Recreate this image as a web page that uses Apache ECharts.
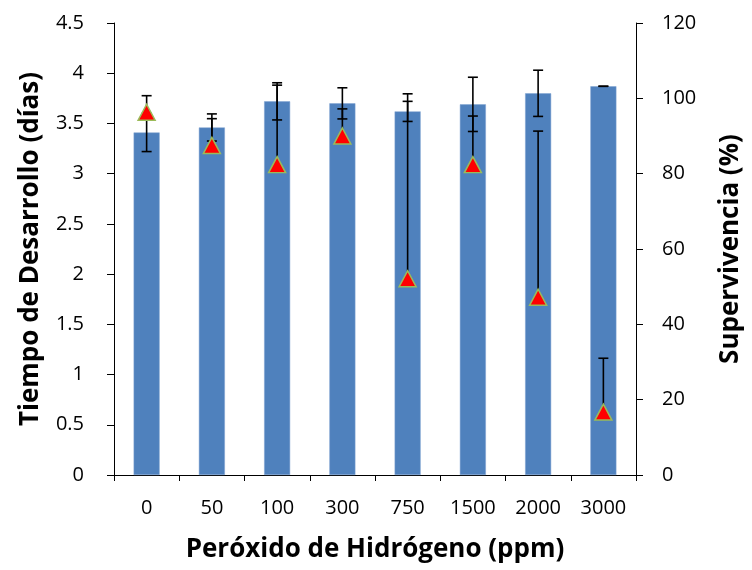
<!DOCTYPE html>
<html>
<head>
<meta charset="utf-8">
<script src="https://cdn.jsdelivr.net/npm/echarts@6/dist/echarts.min.js"></script>
<style>
html,body{margin:0;padding:0;background:#fff;}
#chart{width:752px;height:570px;}
</style>
</head>
<body>
<div id="chart"></div>
<script>
// Categories (H2O2 concentration, ppm)
const categories = ['0', '50', '100', '300', '750', '1500', '2000', '3000'];
// Development time (days) - bars, left axis
const tiempo = [3.41, 3.46, 3.72, 3.70, 3.62, 3.69, 3.80, 3.87];
const tiempoErr = [0.19, 0.135, 0.185, 0.155, 0.10, 0.27, 0.23, 0.0];
// Survival (%) - triangles, right axis (error shown upward only)
const supervivencia = [96.3, 87.5, 82.4, 90.0, 52.1, 82.4, 47.2, 16.7];
const supervivenciaErr = [4.4, 7.1, 21.1, 7.2, 49.1, 12.9, 44.1, 14.3];

const FONT = '"Open Sans", "Noto Sans", sans-serif';

function errRenderer(plusOnly) {
  return function (params, api) {
    const x = api.value(0), v = api.value(1), e = api.value(2);
    const top = api.coord([x, v + e]);
    const bot = api.coord([x, plusOnly ? v : v - e]);
    const hw = 5;
    const style = { stroke: '#000', lineWidth: 1.6 };
    const children = [
      { type: 'line', shape: { x1: top[0], y1: top[1], x2: bot[0], y2: bot[1] }, style: style },
      { type: 'line', shape: { x1: top[0] - hw, y1: top[1], x2: top[0] + hw, y2: top[1] }, style: style }
    ];
    if (!plusOnly) {
      children.push({ type: 'line', shape: { x1: bot[0] - hw, y1: bot[1], x2: bot[0] + hw, y2: bot[1] }, style: style });
    }
    return { type: 'group', children: children };
  };
}

const chart = echarts.init(document.getElementById('chart'));
chart.setOption({
  animation: false,
  backgroundColor: '#fff',
  grid: { left: 114, right: 115, top: 23, bottom: 95, containLabel: false },
  xAxis: {
    type: 'category',
    data: categories,
    boundaryGap: true,
    name: 'Peróxido de Hidrógeno (ppm)',
    nameLocation: 'middle',
    nameGap: 62,
    nameTextStyle: { fontFamily: FONT, fontWeight: 'bold', fontSize: 26, color: '#000' },
    axisLine: { lineStyle: { color: '#000', width: 1 } },
    axisTick: { show: true, alignWithLabel: false, length: 6, lineStyle: { color: '#000' } },
    axisLabel: { fontFamily: FONT, fontSize: 20, color: '#000', margin: 23 },
    splitLine: { show: false }
  },
  yAxis: [
    {
      type: 'value',
      min: 0, max: 4.5, interval: 0.5,
      position: 'left',
      name: 'Tiempo de Desarrollo (días)',
      nameLocation: 'middle',
      nameRotate: 90,
      nameGap: 70,
      nameTextStyle: { fontFamily: FONT, fontWeight: 'bold', fontSize: 26, color: '#000' },
      axisLine: { show: true, lineStyle: { color: '#000', width: 1 } },
      axisTick: { show: true, length: 7, lineStyle: { color: '#000' } },
      axisLabel: { fontFamily: FONT, fontSize: 20, color: '#000', margin: 30 },
      splitLine: { show: false }
    },
    {
      type: 'value',
      min: 0, max: 120, interval: 20,
      position: 'right',
      name: 'Supervivencia (%)',
      nameLocation: 'middle',
      nameRotate: 90,
      nameGap: 82,
      nameTextStyle: { fontFamily: FONT, fontWeight: 'bold', fontSize: 26, color: '#000' },
      axisLine: { show: true, lineStyle: { color: '#000', width: 1 } },
      axisTick: { show: true, length: 7, lineStyle: { color: '#000' } },
      axisLabel: { fontFamily: FONT, fontSize: 20, color: '#000', margin: 26 },
      splitLine: { show: false }
    }
  ],
  series: [
    {
      name: 'Tiempo de Desarrollo',
      type: 'bar',
      yAxisIndex: 0,
      data: tiempo,
      barWidth: 26,
      itemStyle: { color: '#4F81BD', borderColor: '#7FA3D1', borderWidth: 0.5 },
      z: 2
    },
    {
      name: 'Error tiempo',
      type: 'custom',
      yAxisIndex: 0,
      renderItem: errRenderer(false),
      data: categories.map((c, i) => [i, tiempo[i], tiempoErr[i]]),
      z: 3,
      silent: true
    },
    {
      name: 'Error supervivencia',
      type: 'custom',
      yAxisIndex: 1,
      renderItem: errRenderer(true),
      data: categories.map((c, i) => [i, supervivencia[i], supervivenciaErr[i]]),
      z: 4,
      silent: true
    },
    {
      name: 'Supervivencia',
      type: 'line',
      yAxisIndex: 1,
      data: supervivencia,
      lineStyle: { width: 0, opacity: 0 },
      symbol: 'triangle',
      symbolSize: [17, 16],
      itemStyle: { color: '#FF0000', borderColor: '#9BBB59', borderWidth: 1.5 },
      z: 5
    }
  ]
});
</script>
</body>
</html>
